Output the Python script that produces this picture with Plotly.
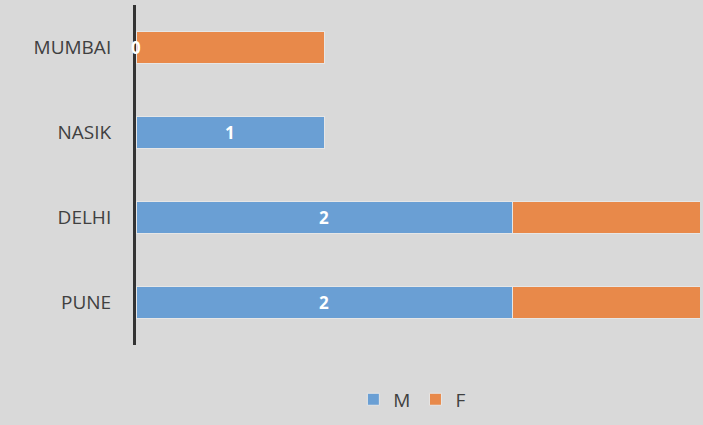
import plotly.graph_objects as go

categories = ["MUMBAI", "NASIK", "DELHI", "PUNE"]
m_values = [0, 1, 2, 2]
f_values = [1, 0, 1, 1]

BLUE = "#6a9fd4"
ORANGE = "#e8894a"
BG = "#d9d9d9"

fig = go.Figure()
fig.add_trace(go.Bar(y=categories, x=m_values, name="M", orientation="h",
                     marker=dict(color=BLUE, line=dict(color="#e6e6e6", width=1))))
fig.add_trace(go.Bar(y=categories, x=f_values, name="F", orientation="h",
                     marker=dict(color=ORANGE, line=dict(color="#e6e6e6", width=1))))

for c, v in zip(categories, m_values):
    fig.add_annotation(x=v / 2, y=c, text="<b>%d</b>" % v, showarrow=False,
                       font=dict(color="white", size=17, family="Open Sans"),
                       xref="x", yref="y")

fig.update_layout(
    width=703, height=425,
    barmode="stack", bargap=0.63,
    paper_bgcolor=BG, plot_bgcolor=BG,
    margin=dict(l=136, r=3, t=5, b=80),
    font=dict(family="Open Sans", color="#404040", size=15),
    showlegend=True,
    legend=dict(orientation="h", x=0.49, xanchor="center", y=-0.16, yanchor="middle",
                font=dict(size=19, color="#404040"), traceorder="normal",
                itemwidth=30, bgcolor="rgba(0,0,0,0)"),
    xaxis=dict(range=[0, 3], showgrid=False, zeroline=False, showticklabels=False,
               showline=False, fixedrange=True),
    yaxis=dict(categoryorder="array", categoryarray=categories[::-1],
               showline=True, linecolor="#333333", linewidth=3,
               showgrid=False, ticks="", ticklabelstandoff=18,
               tickfont=dict(size=19, color="#404040")),
)

fig.write_html("out.html", config={"displayModeBar": False},
               post_script="document.body.style.margin='0';document.body.style.background='%s';" % BG)
